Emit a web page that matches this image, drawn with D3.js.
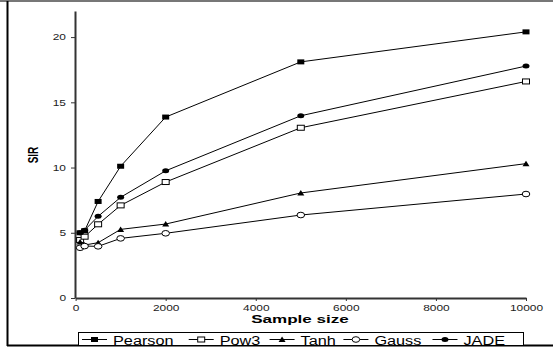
<!DOCTYPE html>
<html>
<head>
<meta charset="utf-8">
<script src="https://cdn.jsdelivr.net/npm/d3@7"></script>
<style>
  html, body { margin: 0; padding: 0; background: #fff; }
  svg { display: block; font-family: "Liberation Sans", Arial, sans-serif; }
</style>
</head>
<body>
<svg id="chart" width="553" height="350"></svg>
<script>
// Sample sizes along the x axis
const sampleSizes = [100, 200, 500, 1000, 2000, 5000, 10000];

// SIR for each separation method
const pearson = [5.0, 5.15, 7.4, 10.1, 13.87, 18.1, 20.4];
const pow3    = [4.45, 4.7, 5.65, 7.1, 8.89, 13.05, 16.6];
const tanh    = [4.3, 4.06, 4.24, 5.26, 5.67, 8.05, 10.3];
const gauss   = [3.85, 3.98, 3.96, 4.57, 4.96, 6.36, 7.97];
const jade    = [5.0, 5.2, 6.26, 7.72, 9.75, 13.97, 17.78];

const seriesNames = ["Pearson", "Pow3", "Tanh", "Gauss", "JADE"];
const seriesValues = [pearson, pow3, tanh, gauss, jade];

const xTicks = [0, 2000, 4000, 6000, 8000, 10000];
const yTicks = [0, 5, 10, 15, 20];

const svg = d3.select("#chart");

// Widen a text element horizontally by a factor (glyphs are drawn wide)
function widen(sel, factor) {
  sel.each(function () {
    const w = this.getComputedTextLength();
    d3.select(this).attr("textLength", w * factor).attr("lengthAdjust", "spacingAndGlyphs");
  });
}

// Outer frame
svg.append("line").attr("x1", 0).attr("x2", 553).attr("y1", 1).attr("y2", 1)
  .attr("stroke", "#777").attr("stroke-width", 2);
svg.append("line").attr("x1", 7.5).attr("x2", 7.5).attr("y1", 1).attr("y2", 346)
  .attr("stroke", "#000").attr("stroke-width", 2);
svg.append("line").attr("x1", 7).attr("x2", 553).attr("y1", 345.5).attr("y2", 345.5)
  .attr("stroke", "#000").attr("stroke-width", 2);

const x = d3.scaleLinear().domain([0, 10000]).range([75.6, 526]);
const y = d3.scaleLinear().domain([0, 22]).range([298, 11]);

// Axes
const xAxis = svg.append("g").attr("transform", "translate(0,298)")
  .call(d3.axisBottom(x).tickValues(xTicks).tickSize(3).tickSizeOuter(0).tickPadding(4).tickFormat(d3.format("d")));
const yAxis = svg.append("g").attr("transform", "translate(75,0)")
  .call(d3.axisLeft(y).tickValues(yTicks).tickSize(4).tickSizeOuter(0).tickPadding(5));

[xAxis, yAxis].forEach(g => {
  g.select(".domain").attr("stroke", "#333").attr("stroke-width", 2);
  g.selectAll(".tick line").attr("stroke", "#333");
  g.selectAll(".tick text").attr("fill", "#222").style("font-size", "8.5px")
    .style("font-family", "\"Liberation Sans\", Arial, sans-serif")
    .call(widen, 1.4);
});

// Axis titles
svg.append("text").attr("x", 300).attr("y", 323).attr("text-anchor", "middle")
  .style("font-size", "11px").style("font-weight", "bold").text("Sample size")
  .call(widen, 1.55);
svg.append("text").attr("transform", "translate(38,155) rotate(-90) scale(1,1.45)")
  .attr("text-anchor", "middle")
  .style("font-size", "10px").style("font-weight", "bold").text("SIR");

// Marker drawing per series
function drawMarker(g, i, cx, cy) {
  switch (i) {
    case 0: // filled square
      g.append("rect").attr("x", cx - 3.5).attr("y", cy - 2.5).attr("width", 7).attr("height", 5)
        .attr("fill", "#000");
      break;
    case 1: // open square
      g.append("rect").attr("x", cx - 3.5).attr("y", cy - 2.5).attr("width", 7).attr("height", 5)
        .attr("fill", "#fff").attr("stroke", "#000").attr("stroke-width", 1);
      break;
    case 2: // filled triangle
      g.append("path").attr("d", `M${cx - 3.5},${cy + 2.5}L${cx + 3.5},${cy + 2.5}L${cx},${cy - 3}Z`)
        .attr("fill", "#000");
      break;
    case 3: // open circle
      g.append("ellipse").attr("cx", cx).attr("cy", cy).attr("rx", 3.8).attr("ry", 2.8)
        .attr("fill", "#fff").attr("stroke", "#000").attr("stroke-width", 1);
      break;
    case 4: // filled circle
      g.append("ellipse").attr("cx", cx).attr("cy", cy).attr("rx", 3.5).attr("ry", 2.5)
        .attr("fill", "#000");
      break;
  }
}

const line = d3.line().x(d => x(d[0])).y(d => y(d[1]));

seriesValues.forEach((vals, i) => {
  const pts = sampleSizes.map((s, j) => [s, vals[j]]);
  const g = svg.append("g");
  g.append("path").attr("d", line(pts)).attr("fill", "none")
    .attr("stroke", "#000").attr("stroke-width", 1);
  pts.forEach(p => drawMarker(g, i, x(p[0]), y(p[1])));
});

// Legend: items laid out left to right inside a framed box
const legend = svg.append("g");
const boxLeft = 78.5, boxRight = 523.5;
legend.append("rect").attr("x", boxLeft).attr("y", 332.5).attr("width", boxRight - boxLeft).attr("height", 13)
  .attr("fill", "#fff").attr("stroke", "#000").attr("stroke-width", 1);

const sampleLen = 25, textGap = 6, legendStretch = 1.3;
const labels = seriesNames.map(name => {
  const t = legend.append("text").attr("y", 344.5).style("font-size", "12.5px").text(name);
  t.call(widen, legendStretch);
  return { t, w: t.node().getComputedTextLength() * legendStretch };
});
const used = labels.reduce((s, l) => s + sampleLen + textGap + l.w, 0);
const itemGap = (boxRight - 6 - (boxLeft + 3.5) - used) / (labels.length - 1);
let lx = boxLeft + 3.5;
labels.forEach((l, i) => {
  legend.append("line").attr("x1", lx).attr("x2", lx + sampleLen).attr("y1", 339.5).attr("y2", 339.5)
    .attr("stroke", "#000").attr("stroke-width", 1);
  drawMarker(legend, i, lx + sampleLen / 2, 339.5);
  l.t.attr("x", lx + sampleLen + textGap);
  lx += sampleLen + textGap + l.w + itemGap;
});
</script>
</body>
</html>
